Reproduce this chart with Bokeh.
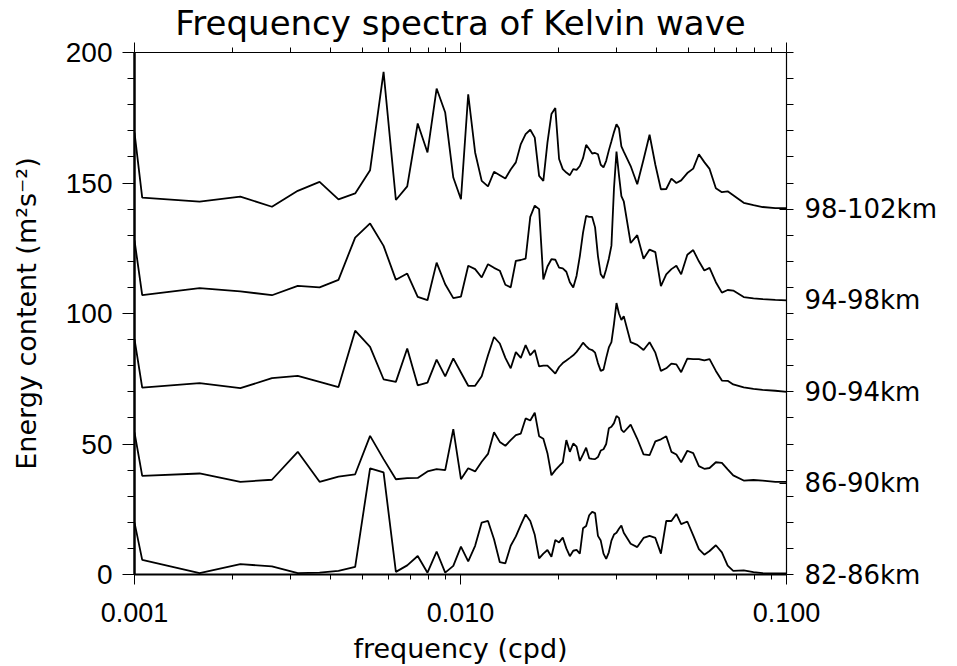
from bokeh.plotting import figure
from bokeh.models import (LogAxis, LinearAxis, FixedTicker, SingleIntervalTicker,
                          PrintfTickFormatter, Range1d, ColumnDataSource)
from bokeh.embed import file_html
from bokeh.resources import INLINE

# ---------------- data ----------------
DF = 0.000528  # frequency resolution (cpd)
HARMONICS = list(range(2, 61)) + [63, 66, 69, 72, 75, 78, 81, 84, 87, 90, 94, 98, 102,
                                  106, 110, 115, 120, 125, 130, 140, 150, 160, 175, 190]
freq = [0.001] + [k * DF for k in HARMONICS]

labels = ["82-86km", "86-90km", "90-94km", "94-98km", "98-102km"]
offsets = [0, 35, 70, 105, 140]

s_82_86 = [19.9,
           5.6, 0.5, 4, 3.1, 0.5, 0.7, 1.4, 2.9, 40.7, 39.1, 1, 3.5, 7.1, 0.7, 8.8, 0.7, 3.3,
           10.7, 5, 11, 19.9, 20.5, 13.5, 4.7, 4.3, 11, 14.6, 19, 23,
           20.5, 15.2, 6.2, 8, 9.4, 6.8, 13.2, 12.3, 14.2, 10,
           7, 9.1, 9.4, 8, 17.7, 18.6, 22.7, 24, 23.5, 14.8,
           13, 8, 6, 8.5, 13, 15.3, 16, 17.5, 18.8, 16,
           11.8, 10.5, 14, 14.8, 14, 8, 20.5, 20.5, 23.2, 19.3,
           20.3, 15, 9.7, 7.6, 9, 11.2, 8.5, 3.4, 1.4, 1.6, 0.9, 0.5, 0.4, 0.4]
s_86_90 = [19.4,
           2.8, 3.7, 0.5, 1.3, 12, 0.5, 2.5, 3.4, 18.1, 9.2, 1.5, 1.9, 2, 4.5, 5.4, 5, 20.7,
           1.5, 5.7, 4.5, 8.2, 11.2, 19.5, 15.8, 14.3, 16.5, 18.4, 19, 24.8,
           24, 27, 18, 17, 11.5, 3, 5, 6.5, 8, 16.5,
           12, 15.2, 14, 8.5, 11, 13.6, 9.5, 9.3, 9.2, 10,
           12.5, 13, 15, 21, 21.6, 23, 25.7, 25, 20.5, 19.5,
           22.4, 17, 11, 10.7, 16, 16.8, 18, 12, 11, 8,
           12.4, 11.5, 6.5, 5.5, 5.8, 8, 7.8, 5.3, 3, 1, 1.2, 1, 0.5, 0.5]
s_90_94 = [20.2,
           1.6, 3.3, 1.4, 5.2, 6.1, 3.8, 1.8, 23.4, 17.2, 4.8, 3.8, 16.6, 2.5, 3.5, 12.3, 5.9, 12.8,
           7.4, 2.3, 2.3, 6, 14, 21, 18.5, 13, 9, 15.2, 13, 17.9,
           14, 16, 9.7, 10, 10, 8.5, 7, 9.5, 11, 12,
           13, 14, 15.3, 17, 18.8, 17.5, 16.4, 16, 15, 11,
           8, 8.5, 13, 17, 19, 26, 34, 30, 27.5, 29,
           19, 18, 16, 19, 15, 8, 9, 10.8, 10.5, 7.5,
           12.7, 12.5, 12.5, 12, 12.5, 8, 4.3, 4.2, 2.8, 1.7, 1.1, 0.7, 0.4, 0]
s_94_98 = [23,
           2, 4.7, 3.5, 2, 5.6, 5, 7.9, 24.1, 29.5, 20.9, 7.9, 10.3, 1.4, 0.1, 14.5, 6.2, 0.9,
           1.5, 13.3, 12, 8.8, 13.9, 12.5, 11.4, 6, 5, 15.2, 15.5, 16,
           32, 36.3, 35, 8, 13, 15.8, 15.6, 12.6, 12.3, 11,
           7, 5, 9.5, 17, 26, 32.4, 32, 32, 28, 17,
           10, 8.5, 12, 16, 21, 43, 57, 48, 40, 38,
           22, 25, 16, 19.5, 18.5, 5.5, 10, 12, 13.3, 10,
           17.5, 19.3, 15, 11.5, 12.5, 7, 3, 4, 3.8, 1.3, 0.8, 0.5, 0.2, 0]
s_98_102 = [29.3,
            4.4, 2.9, 4.8, 0.9, 7, 10.4, 3.7, 6, 14.9, 52.6, 3.5, 8.7, 32.8, 21.7, 46.2, 37, 12.1,
            3.8, 44, 21.7, 10.8, 8.7, 14.3, 13, 11.7, 15.2, 17.9, 24.9, 28.7,
            30.4, 27.4, 12.7, 10.8, 25.5, 36.4, 38.7, 19.2, 15.3, 14,
            13, 15.3, 15, 16.5, 19.5, 24.6, 23, 21.3, 21.5, 21,
            17, 16, 18.5, 22.5, 26, 29.5, 32.5, 31, 24, 22,
            16.5, 9.5, 19, 28.5, 17, 7.6, 7.7, 11.7, 10, 11,
            13.8, 15.5, 21, 18, 15.4, 8, 6.5, 6.8, 5.3, 2.4, 1.5, 0.8, 0.4, 0.4]
series = [s_82_86, s_86_90, s_90_94, s_94_98, s_98_102]

x_major = [0.001, 0.01, 0.1]

# ---------------- plot ----------------
FONT = "Liberation Sans"
FONT_WIDE = "DejaVu Sans"

p = figure(x_axis_type="log", x_range=Range1d(0.001, 0.1), y_range=Range1d(0, 200),
           frame_width=652, frame_height=522,
           min_border_left=134, min_border_right=154, min_border_top=42, min_border_bottom=84,
           output_backend="svg", toolbar_location=None,
           title="Frequency spectra of Kelvin wave")
p.grid.visible = False
p.outline_line_color = None
p.background_fill_color = "white"
p.border_fill_color = "white"

p.title.text_font = FONT_WIDE
p.title.text_font_size = "34px"
p.title.text_font_style = "normal"
p.title.align = "center"
p.title.text_color = "black"
p.title.standoff = 0

minor_x = [m * d for d in [0.001, 0.01] for m in range(2, 10)]

def style_xaxis(ax, show_labels):
    ax.ticker = FixedTicker(ticks=x_major, minor_ticks=minor_x)
    ax.axis_line_color = "black"
    ax.major_tick_line_color = "black"
    ax.minor_tick_line_color = "black"
    ax.major_tick_in = 0
    ax.major_tick_out = 10
    ax.minor_tick_in = 0
    ax.minor_tick_out = 5
    if show_labels:
        ax.formatter = PrintfTickFormatter(format="%.3f")
        ax.major_label_text_font = FONT
        ax.major_label_text_font_size = "27px"
        ax.major_label_text_color = "black"
        ax.major_label_standoff = 18
        ax.axis_label = "frequency (cpd)"
        ax.axis_label_text_font = FONT_WIDE
        ax.axis_label_text_font_size = "27px"
        ax.axis_label_text_font_style = "normal"
        ax.axis_label_text_color = "black"
        ax.axis_label_standoff = 8
    else:
        ax.major_label_text_font_size = "2px"
        ax.major_label_text_alpha = 0
        ax.major_label_standoff = 0

bottom = p.xaxis[0]
style_xaxis(bottom, True)
bottom.axis_line_width = 2

top = LogAxis()
style_xaxis(top, False)
top.axis_line_width = 1.2
p.add_layout(top, "above")

left = p.yaxis[0]
left.ticker = SingleIntervalTicker(interval=50, num_minor_ticks=5)
left.axis_line_width = 2.5
left.axis_line_color = "black"
left.major_tick_in = 0
left.major_tick_out = 12
left.minor_tick_in = 0
left.minor_tick_out = 7
left.major_tick_line_color = "black"
left.minor_tick_line_color = "black"
left.major_label_text_font = FONT
left.major_label_text_font_size = "28px"
left.major_label_text_color = "black"
left.major_label_standoff = 10
left.axis_label = "Energy content (m²s⁻²)"
left.axis_label_text_font = FONT_WIDE
left.axis_label_text_font_size = "27px"
left.axis_label_text_font_style = "normal"
left.axis_label_text_color = "black"
left.axis_label_standoff = 21

right = LinearAxis()
right.ticker = FixedTicker(ticks=offsets, minor_ticks=list(range(0, 201, 10)))
right.major_label_overrides = {o: lab for o, lab in zip(offsets, labels)}
right.axis_line_width = 1.2
right.axis_line_color = "black"
right.major_tick_in = 7
right.major_tick_out = 0
right.minor_tick_in = 0
right.minor_tick_out = 7
right.major_tick_line_color = "black"
right.minor_tick_line_color = "black"
right.major_label_text_font = FONT_WIDE
right.major_label_text_font_size = "26px"
right.major_label_text_color = "black"
right.major_label_standoff = 11
p.add_layout(right, "right")

for vals, off in zip(series, offsets):
    src = ColumnDataSource(dict(f=freq, e=[v + off for v in vals]))
    p.line("f", "e", source=src, line_color="black", line_width=1.8)

open("out.html", "w").write(file_html(p, INLINE))
